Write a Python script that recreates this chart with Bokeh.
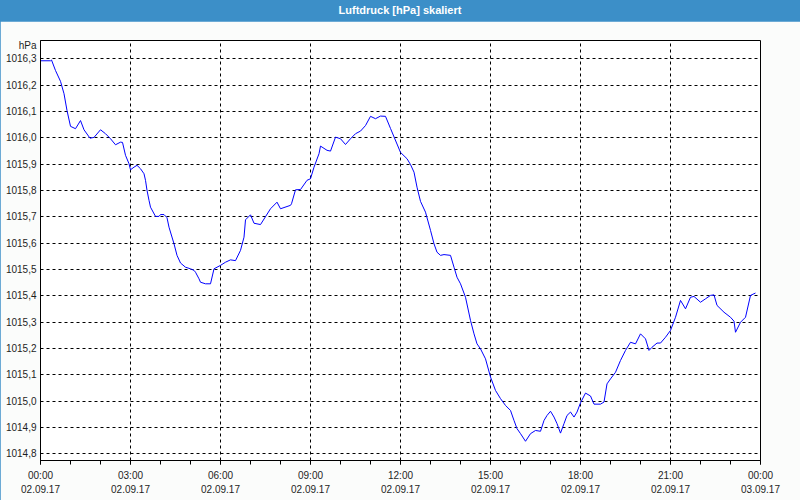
from bokeh.plotting import figure
from bokeh.models import (ColumnDataSource, FixedTicker, LinearAxis, Range1d,
                          CustomJSTickFormatter, Div, InlineStyleSheet)
from bokeh.layouts import column
from bokeh.embed import file_html
from bokeh.resources import INLINE

# ---------------- data ----------------
title_text = "Luftdruck [hPa] skaliert"
unit_label = "hPa"

# minutes since 02.09.17 00:00
minutes = [0, 20, 22, 30, 40, 47, 53, 60, 70, 80, 87, 99, 107, 120, 130, 140, 150, 160, 164, 170,
           177, 180, 187, 193, 200, 207, 210, 213, 217, 220, 230, 237, 240, 247, 253, 257, 267, 273,
           280, 290, 300, 307, 310, 317, 320, 330, 340, 347, 360, 370, 380, 390, 400, 407, 410, 420,
           427, 440, 460, 473, 480, 500, 502, 510, 520, 533, 540, 547, 557, 560, 573, 580, 590, 600,
           610, 620, 630, 640, 650, 660, 670, 680, 690, 700, 720, 733, 740, 747, 753, 760, 770, 780,
           787, 793, 800, 807, 820, 827, 833, 840, 850, 860, 867, 873, 880, 890, 900, 910, 920, 930,
           940, 947, 953, 960, 970, 980, 990, 1000, 1007, 1013, 1020, 1027, 1033, 1040, 1047, 1053,
           1060, 1067, 1073, 1080, 1090, 1100, 1107, 1120, 1127, 1133, 1140, 1150, 1160, 1170, 1180,
           1190, 1200, 1210, 1217, 1223, 1233, 1240, 1250, 1260, 1270, 1280, 1290, 1300, 1307, 1320,
           1330, 1340, 1347, 1353, 1367, 1380, 1387, 1390, 1400, 1410, 1420, 1430]
pressure = [1016.293, 1016.293, 1016.296, 1016.256, 1016.215, 1016.168, 1016.104, 1016.044, 1016.035,
            1016.066, 1016.031, 1015.999, 1016.002, 1016.031, 1016.016, 1015.997, 1015.974, 1015.984,
            1015.983, 1015.934, 1015.902, 1015.879, 1015.889, 1015.896, 1015.883, 1015.864, 1015.839,
            1015.801, 1015.763, 1015.737, 1015.702, 1015.702, 1015.709, 1015.709, 1015.697, 1015.661,
            1015.598, 1015.554, 1015.525, 1015.509, 1015.503, 1015.497, 1015.490, 1015.465, 1015.452,
            1015.446, 1015.446, 1015.503, 1015.516, 1015.528, 1015.537, 1015.534, 1015.573, 1015.623,
            1015.689, 1015.708, 1015.676, 1015.671, 1015.731, 1015.756, 1015.731, 1015.744, 1015.750,
            1015.803, 1015.804, 1015.839, 1015.845, 1015.889, 1015.940, 1015.969, 1015.953, 1015.950,
            1016.003, 1015.997, 1015.975, 1015.997, 1016.016, 1016.026, 1016.047, 1016.082, 1016.073,
            1016.083, 1016.082, 1016.036, 1015.945, 1015.921, 1015.899, 1015.870, 1015.813, 1015.759,
            1015.718, 1015.649, 1015.598, 1015.566, 1015.554, 1015.557, 1015.554, 1015.509, 1015.471,
            1015.446, 1015.395, 1015.307, 1015.256, 1015.218, 1015.199, 1015.161, 1015.092, 1015.041,
            1015.010, 1014.984, 1014.965, 1014.927, 1014.896, 1014.877, 1014.848, 1014.877, 1014.889,
            1014.886, 1014.927, 1014.946, 1014.962, 1014.940, 1014.915, 1014.879, 1014.915, 1014.946,
            1014.959, 1014.940, 1014.959, 1014.994, 1015.031, 1015.020, 1014.989, 1014.989, 1014.997,
            1015.066, 1015.085, 1015.110, 1015.155, 1015.193, 1015.224, 1015.218, 1015.256, 1015.237,
            1015.193, 1015.205, 1015.221, 1015.221, 1015.243, 1015.269, 1015.319, 1015.383, 1015.351,
            1015.395, 1015.398, 1015.376, 1015.389, 1015.402, 1015.404, 1015.364, 1015.338, 1015.319,
            1015.304, 1015.262, 1015.300, 1015.319, 1015.402, 1015.411]

x_ticks = [0, 3, 6, 9, 12, 15, 18, 21, 24]
x_time_labels = ["00:00", "03:00", "06:00", "09:00", "12:00", "15:00", "18:00", "21:00", "00:00"]
x_date_labels = ["02.09.17", "02.09.17", "02.09.17", "02.09.17", "02.09.17", "02.09.17",
                 "02.09.17", "02.09.17", "03.09.17"]
x_minor = list(range(0, 25))
y_ticks = [1014.8, 1014.9, 1015.0, 1015.1, 1015.2, 1015.3, 1015.4, 1015.5, 1015.6,
           1015.7, 1015.8, 1015.9, 1016.0, 1016.1, 1016.2, 1016.3]
y_min, y_max = 1014.775, 1016.370

# ---------------- styling ----------------
BLUE_BAR = "#3c8fc8"
BG = "#fbfcfb"
FONT = "Liberation Sans"
TXT = "#1e1e1e"
UNIT_POS = 1016.351  # vertical place of the unit label, just under the frame top

hours = [m / 60.0 for m in minutes]
src = ColumnDataSource(dict(x=hours, y=pressure))

frame_css = InlineStyleSheet(css=":host { outline: 1px solid %s; outline-offset: -1px; z-index: 5; }" % BLUE_BAR)

p = figure(width=800, height=479, output_backend="svg", toolbar_location=None,
           x_range=Range1d(0, 24), y_range=Range1d(y_min, y_max),
           min_border_left=40, min_border_right=40, min_border_top=19, min_border_bottom=40,
           x_axis_location=None, y_axis_location="left", title=None,
           stylesheets=[frame_css])
p.background_fill_color = "white"
p.border_fill_color = BG
p.outline_line_color = "black"
p.outline_line_width = 1

p.line("x", "y", source=src, line_color="#0000ff", line_width=1)

# y axis (tick labels + unit label as an extra, tick-less label)
ya = p.yaxis[0]
ya.ticker = FixedTicker(ticks=y_ticks + [UNIT_POS])
ya.formatter = CustomJSTickFormatter(
    args=dict(unit=unit_label, upos=UNIT_POS),
    code="if (Math.abs(tick - upos) < 1e-6) { return unit; } return tick.toFixed(1).replace('.', ',');")
ya.major_tick_out = 0
ya.major_tick_in = 0
ya.minor_tick_line_color = None
ya.major_label_standoff = 4
ya.axis_line_color = "black"
ya.major_label_text_font = FONT
ya.major_label_text_font_size = "10px"
ya.major_label_text_color = TXT

# x axis (times)
xa = LinearAxis(ticker=FixedTicker(ticks=x_ticks, minor_ticks=x_minor),
                major_label_overrides={t: l for t, l in zip(x_ticks, x_time_labels)})
xa.major_tick_out = 4
xa.major_tick_in = 0
xa.minor_tick_out = 4
xa.minor_tick_in = 0
xa.major_label_standoff = 5
xa.axis_line_color = "black"
xa.major_label_text_font = FONT
xa.major_label_text_font_size = "10px"
xa.major_label_text_color = TXT
p.add_layout(xa, "below")

# x axis (dates)
xd = LinearAxis(ticker=FixedTicker(ticks=x_ticks),
                major_label_overrides={t: l for t, l in zip(x_ticks, x_date_labels)})
xd.axis_line_color = None
xd.major_tick_line_color = None
xd.minor_tick_line_color = None
xd.major_tick_out = 0
xd.major_tick_in = 0
xd.major_label_standoff = 1
xd.major_label_text_font = FONT
xd.major_label_text_font_size = "10px"
xd.major_label_text_color = TXT
p.add_layout(xd, "below")

# grids
p.xgrid.ticker = FixedTicker(ticks=x_ticks)
p.ygrid.ticker = FixedTicker(ticks=y_ticks)
for g in (p.xgrid[0], p.ygrid[0]):
    g.grid_line_color = "black"
    g.grid_line_dash = "3 3"
    g.grid_line_width = 1

bar = Div(text=title_text, width=800, height=21, margin=0,
          styles={"background-color": BLUE_BAR, "color": "white", "font-weight": "bold",
                  "font-family": FONT, "font-size": "11px", "text-align": "center",
                  "line-height": "21px"})

layout = column(bar, p, spacing=0)
open("out.html", "w").write(file_html(layout, INLINE))
